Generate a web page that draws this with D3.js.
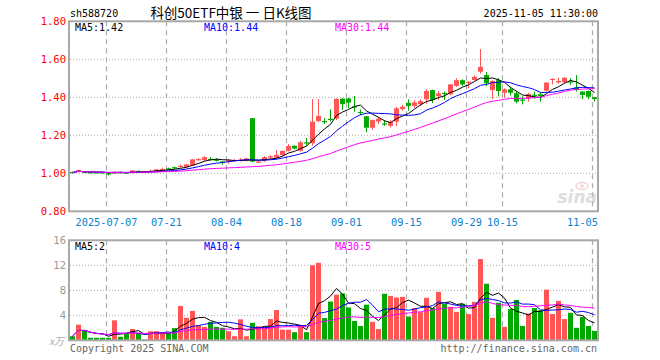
<!DOCTYPE html>
<html><head><meta charset="utf-8">
<script src="https://cdn.jsdelivr.net/npm/d3@7"></script>
<style>body{margin:0;background:#fff}svg{display:block}</style>
</head><body>
<svg id="c" width="660" height="360"></svg>
<script>
const dates = ["2025-06-27","2025-06-30","2025-07-01","2025-07-02","2025-07-03","2025-07-04",
"2025-07-07","2025-07-08","2025-07-09","2025-07-10","2025-07-11","2025-07-14","2025-07-15","2025-07-16","2025-07-17","2025-07-18",
"2025-07-21","2025-07-22","2025-07-23","2025-07-24","2025-07-25","2025-07-28","2025-07-29","2025-07-30","2025-07-31","2025-08-01",
"2025-08-04","2025-08-05","2025-08-06","2025-08-07","2025-08-08","2025-08-11","2025-08-12","2025-08-13","2025-08-14","2025-08-15",
"2025-08-18","2025-08-19","2025-08-20","2025-08-21","2025-08-22","2025-08-25","2025-08-26","2025-08-27","2025-08-28","2025-08-29",
"2025-09-01","2025-09-02","2025-09-03","2025-09-04","2025-09-05","2025-09-08","2025-09-09","2025-09-10","2025-09-11","2025-09-12",
"2025-09-15","2025-09-16","2025-09-17","2025-09-18","2025-09-19","2025-09-22","2025-09-23","2025-09-24","2025-09-25","2025-09-26",
"2025-09-29","2025-09-30","2025-10-09","2025-10-10","2025-10-13","2025-10-14","2025-10-15","2025-10-16","2025-10-17",
"2025-10-20","2025-10-21","2025-10-22","2025-10-23","2025-10-24","2025-10-27","2025-10-28","2025-10-29","2025-10-30","2025-10-31",
"2025-11-03","2025-11-04","2025-11-05"];
const open = [1.007,1.007,1.011,1.006,1.005,1.005,1.000,1.000,1.008,1.005,1.001,1.013,1.003,1.008,1.011,1.021,1.026,1.032,1.034,1.034,
1.042,1.072,1.070,1.076,1.072,1.062,1.063,1.065,1.066,1.066,1.290,1.060,1.065,1.083,1.082,1.096,1.119,1.145,1.118,1.163,
1.158,1.275,1.275,1.287,1.288,1.393,1.394,1.352,1.323,1.300,1.240,1.273,1.262,1.250,1.272,1.338,1.370,1.355,1.364,1.390,
1.438,1.407,1.423,1.416,1.460,1.490,1.475,1.491,1.535,1.517,1.438,1.490,1.424,1.442,1.421,1.388,1.395,1.414,1.416,1.435,
1.493,1.478,1.479,1.484,1.452,1.430,1.433,1.400];
const high = [1.009,1.018,1.012,1.007,1.006,1.005,1.001,1.009,1.009,1.006,1.016,1.014,1.013,1.020,1.022,1.030,1.030,1.035,1.046,1.050,
1.075,1.080,1.090,1.085,1.080,1.065,1.075,1.075,1.080,1.082,1.290,1.068,1.090,1.095,1.122,1.120,1.155,1.147,1.170,1.185,
1.391,1.391,1.290,1.337,1.395,1.395,1.397,1.407,1.335,1.302,1.282,1.297,1.280,1.280,1.350,1.360,1.390,1.385,1.390,1.443,
1.440,1.433,1.430,1.470,1.500,1.495,1.485,1.515,1.654,1.533,1.490,1.500,1.447,1.456,1.430,1.405,1.424,1.430,1.424,1.480,
1.500,1.503,1.505,1.500,1.517,1.432,1.435,1.402];
const low = [1.000,1.005,1.002,1.002,1.002,1.001,0.988,0.998,1.000,1.000,1.000,1.004,1.001,1.006,1.009,1.015,1.018,1.024,1.030,1.030,
1.040,1.066,1.065,1.068,1.062,1.045,1.050,1.060,1.062,1.062,1.058,1.055,1.060,1.075,1.075,1.092,1.115,1.126,1.115,1.145,
1.145,1.270,1.260,1.272,1.280,1.333,1.343,1.324,1.307,1.216,1.230,1.260,1.250,1.242,1.248,1.330,1.330,1.345,1.355,1.366,
1.370,1.386,1.386,1.410,1.455,1.460,1.447,1.487,1.525,1.458,1.390,1.405,1.398,1.410,1.368,1.363,1.377,1.393,1.377,1.430,
1.468,1.472,1.475,1.465,1.430,1.390,1.390,1.377];
const close = [1.004,1.017,1.003,1.004,1.004,1.003,0.997,1.008,1.004,1.002,1.015,1.006,1.012,1.013,1.020,1.023,1.024,1.026,1.039,1.047,
1.073,1.075,1.085,1.072,1.068,1.058,1.068,1.070,1.072,1.078,1.062,1.062,1.085,1.090,1.096,1.118,1.144,1.130,1.163,1.160,
1.272,1.302,1.270,1.284,1.392,1.364,1.372,1.348,1.318,1.240,1.280,1.287,1.258,1.270,1.342,1.350,1.355,1.373,1.380,1.433,
1.386,1.421,1.419,1.468,1.490,1.468,1.482,1.508,1.560,1.474,1.486,1.433,1.442,1.424,1.377,1.384,1.417,1.410,1.407,1.477,
1.497,1.486,1.503,1.480,1.438,1.412,1.403,1.391];
const volume = [0.65,2.5,1.6,0.4,0.4,0.4,0.4,3.2,0.55,1.1,1.8,1.1,0.15,1.45,1.45,1.2,1.2,1.95,5.5,3.6,
4.7,2.4,2.15,2.95,2.15,2.0,1.45,0.65,3.35,0.65,2.8,2.25,2.15,3.4,4.85,1.7,1.7,1.3,2.4,1.3,
12.0,12.4,3.55,6.2,7.3,7.5,5.25,3.1,2.3,5.7,2.95,1.8,7.45,7.1,6.85,6.95,3.8,5.15,4.5,6.8,
5.15,7.75,5.8,5.35,4.55,5.85,4.2,6.15,13.0,9.05,3.6,6.0,2.15,5.0,6.45,2.3,4.3,5.15,4.8,8.1,
4.2,6.3,3.4,4.4,2.0,3.75,2.3,1.5];
const priceTicks = [0.80,1.00,1.20,1.40,1.60,1.80];
const volTicks = [4,8,12,16];
const dateTicks = ["2025-07-07","2025-07-21","2025-08-04","2025-08-18","2025-09-01","2025-09-15","2025-09-29","2025-10-15","2025-11-05"];
const dateTickLabels = ["2025-07-07","07-21","08-04","08-18","09-01","09-15","09-29","10-15","11-05"];
const maPeriods = [5,10,30];
const maNames = ["MA5","MA10","MA30"];
const priceMaText = ["1.42","1.44","1.44"];
const volMaText = ["2","4","5"];
const symbol = "sh588720";
const title = "科创50ETF中银 一 日K线图";
const stamp = "2025-11-05 11:30:00";

const RED = "#ff5555", GREEN = "#00a800";
const maColors = ["#000000","#0000ff","#ff00ff"];
const mono = "'DejaVu Sans Mono', monospace";
const svg = d3.select("#c");
const L = 70, R = 598;
const x = d3.scaleBand().domain(dates).range([L, R]).padding(0);
const y = d3.scaleLinear().domain([0.8, 1.8]).range([211.3, 21.3]);
const yv = d3.scaleLinear().domain([0, 16]).range([340.3, 240.3]);
const bw = x.bandwidth() - 1;
const cx = d => x(d) + bw / 2;

function ma(arr, n) {
  return arr.map((v, i) => d3.mean(arr.slice(Math.max(0, i - n + 1), i + 1)));
}

// header
svg.append("text").attr("x", 70).attr("y", 17).attr("font-family", mono).attr("font-size", 10).text(symbol);
svg.append("text").attr("x", 231).attr("y", 18).attr("text-anchor", "middle")
  .attr("font-family", "'Noto Sans CJK SC', sans-serif").attr("font-size", 13.5).text(title);
svg.append("text").attr("x", 598).attr("y", 17).attr("text-anchor", "end").attr("font-family", mono).attr("font-size", 10).text(stamp);

function panelGrid(yScale, ticks, top, bottom) {
  const g = svg.append("g");
  g.selectAll("line.h").data(ticks).join("line")
    .attr("x1", L).attr("x2", R).attr("y1", d => yScale(d)).attr("y2", d => yScale(d))
    .attr("stroke", "#aaa").attr("stroke-width", 1).attr("stroke-dasharray", "1,2");
  g.selectAll("line.v").data(dateTicks).join("line")
    .attr("x1", d => x(d) + 0.5).attr("x2", d => x(d) + 0.5).attr("y1", top).attr("y2", bottom)
    .attr("stroke", "#aaa").attr("stroke-width", 1.2).attr("stroke-dasharray", "5,4");
}
panelGrid(y, [1.0, 1.2, 1.4, 1.6], 21.3, 211.3);
panelGrid(yv, [4, 8, 12], 240.3, 340.3);

// watermark
const wm = svg.append("g").attr("opacity", 0.6);
wm.append("ellipse").attr("cx", 582).attr("cy", 186).attr("rx", 6).attr("ry", 3.5).attr("fill", "none").attr("stroke", "#f3b5b5").attr("stroke-width", 1.5);
wm.append("circle").attr("cx", 582).attr("cy", 186).attr("r", 1.8).attr("fill", "#f3b5b5");
wm.append("text").attr("x", 597).attr("y", 203).attr("text-anchor", "end").attr("font-family", "'DejaVu Sans', sans-serif")
  .attr("font-style", "italic").attr("font-weight", "bold").attr("font-size", 17).attr("fill", "#c8c8c8").text("sina");

// price axis labels
svg.selectAll("text.pl").data(priceTicks).join("text")
  .attr("x", 66).attr("y", d => y(d) + 4).attr("text-anchor", "end")
  .attr("font-family", mono).attr("font-size", 10.5).attr("fill", "#ff0000").text(d => d.toFixed(2));
// vol axis labels
svg.selectAll("text.vl").data(volTicks).join("text")
  .attr("x", 66).attr("y", d => yv(d) + 4).attr("text-anchor", "end")
  .attr("font-family", mono).attr("font-size", 10.5).attr("fill", "#999").text(d => d);
svg.append("text").attr("x", 64).attr("y", 345).attr("text-anchor", "end").attr("font-family", "'Noto Sans CJK SC', sans-serif")
  .attr("font-size", 10).attr("font-style", "italic").attr("fill", "#aaa").text("x万");

// date labels
svg.selectAll("text.dl").data(dateTicks).join("text")
  .attr("x", (d, i) => {
    const w = dateTickLabels[i].length * 6.2;
    const xc = x(d) + 0.5;
    return Math.min(Math.max(xc, L + w / 2), R - w / 2);
  })
  .attr("y", 226).attr("text-anchor", "middle")
  .attr("font-family", mono).attr("font-size", 10.3).attr("fill", "#0a7fd0").text((d, i) => dateTickLabels[i]);

// candles
const idx = d3.range(dates.length);
const cg = svg.append("g");
cg.selectAll("line.w").data(idx).join("line")
  .attr("x1", i => Math.floor(cx(dates[i])) + 0.5).attr("x2", i => Math.floor(cx(dates[i])) + 0.5)
  .attr("y1", i => y(high[i])).attr("y2", i => y(low[i]))
  .attr("stroke", i => close[i] >= open[i] ? RED : GREEN).attr("stroke-width", 1);
cg.selectAll("rect.b").data(idx).join("rect")
  .attr("x", i => x(dates[i])).attr("width", bw)
  .attr("y", i => Math.min(y(open[i]), y(close[i])))
  .attr("height", i => Math.max(1.2, Math.abs(y(open[i]) - y(close[i]))))
  .attr("fill", i => close[i] >= open[i] ? RED : GREEN);

// volume bars
svg.append("g").selectAll("rect").data(idx).join("rect")
  .attr("x", i => x(dates[i])).attr("width", bw)
  .attr("y", i => yv(volume[i])).attr("height", i => yv(0) - yv(volume[i]))
  .attr("fill", i => close[i] >= open[i] ? RED : GREEN);

// MA lines
const line = (ys, arr) => d3.line().x((d, i) => cx(dates[i])).y(d => ys(d))(arr);
maPeriods.forEach((n, k) => {
  svg.append("path").attr("d", line(y, ma(close, n))).attr("fill", "none").attr("stroke", maColors[k]).attr("stroke-width", 1);
  svg.append("path").attr("d", line(yv, ma(volume, n))).attr("fill", "none").attr("stroke", maColors[k]).attr("stroke-width", 1);
});

// frames
svg.append("rect").attr("x", 69).attr("y", 21.3).attr("width", R - 69).attr("height", 190).attr("fill", "none").attr("stroke", "#a8a8a8").attr("stroke-width", 2);
svg.append("rect").attr("x", 69).attr("y", 240.3).attr("width", R - 69).attr("height", 100).attr("fill", "none").attr("stroke", "#a8a8a8").attr("stroke-width", 2);

// legends
const legX = [75, 204, 335];
maNames.forEach((nm, k) => {
  svg.append("text").attr("x", legX[k]).attr("y", 31).attr("font-family", mono).attr("font-size", 10)
    .attr("fill", maColors[k]).text(nm + ":" + priceMaText[k]);
  svg.append("text").attr("x", legX[k]).attr("y", 250).attr("font-family", mono).attr("font-size", 10)
    .attr("fill", maColors[k]).text(nm + ":" + volMaText[k]);
});

// footer
svg.append("text").attr("x", 70).attr("y", 352).attr("font-family", mono).attr("font-size", 10).attr("fill", "#666").text("Copyright 2025 SINA.COM");
svg.append("text").attr("x", 597).attr("y", 352).attr("text-anchor", "end").attr("font-family", mono).attr("font-size", 10).attr("fill", "#666").text("http://finance.sina.com.cn");
</script>
</body></html>
